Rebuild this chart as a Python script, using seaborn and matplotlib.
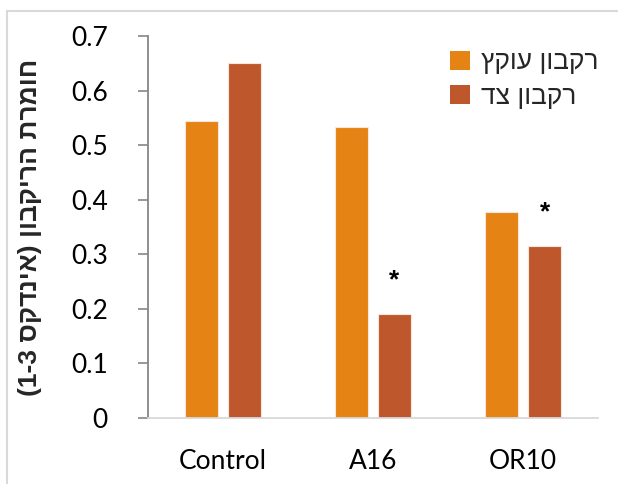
import re
import matplotlib
matplotlib.use("Agg")
import matplotlib.pyplot as plt
import seaborn as sns
import pandas as pd
from matplotlib.patches import Rectangle
from matplotlib.lines import Line2D

# ---- data ----
categories = ["Control", "A16", "OR10"]
series_names = ["רקבון עוקץ", "רקבון צד"]
stem_rot = [0.544, 0.533, 0.377]
side_rot = [0.650, 0.190, 0.315]
significant_side = [False, True, True]
y_ticks = [0, 0.1, 0.2, 0.3, 0.4, 0.5, 0.6, 0.7]
y_label = "חומרת הריקבון (אינדקס 1-3)"
colors = ["#E58414", "#BE582C"]


def visual(s):
    """Convert logical-order Hebrew text to visual order for LTR rendering."""
    r = s[::-1]
    r = re.sub(r"[0-9A-Za-z\-\.]+", lambda m: m.group(0)[::-1], r)
    return r.translate(str.maketrans("()", ")("))


df = pd.DataFrame({
    "category": categories * 2,
    "series": [series_names[0]] * 3 + [series_names[1]] * 3,
    "value": stem_rot + side_rot,
})

sns.set_theme(style="white")
plt.rcParams["font.family"] = ["Lato", "DejaVu Sans"]

fig = plt.figure(figsize=(6.18, 4.84), dpi=100)
ax = fig.add_axes([0.2395, 0.1364, 0.7285, 0.7892])

sns.barplot(data=df, x="category", y="value", hue="series",
            hue_order=series_names, order=categories, palette=colors,
            saturation=1, width=0.573, gap=0.23, edgecolor="#f6e6dc",
            linewidth=0.8, ax=ax, legend=False)

# significance asterisks above side-rot bars
for i, (v, sig) in enumerate(zip(side_rot, significant_side)):
    if sig:
        ax.text(i + 0.143, v + 0.062, "*", ha="center", va="center",
                fontsize=19, fontweight="bold", color="black",
                family="Liberation Sans")

ax.set_ylim(0, 0.7)
ax.set_xlim(-0.5, 2.5)
ax.set_yticks(y_ticks)
ax.set_yticklabels([("%g" % t) for t in y_ticks], fontsize=19)
ax.tick_params(axis="y", direction="out", length=7, width=1.2,
               color="#868686", pad=22, left=True)
for lab in ax.get_yticklabels():
    lab.set_horizontalalignment("right")
ax.tick_params(axis="x", length=0, pad=22, labelsize=19)
for lab in ax.get_xticklabels() + ax.get_yticklabels():
    lab.set_color("black")

for side in ["top", "right"]:
    ax.spines[side].set_visible(False)
ax.spines["left"].set_color("#868686")
ax.spines["left"].set_linewidth(1.3)
ax.spines["bottom"].set_color("#d9d9d9")
ax.spines["bottom"].set_linewidth(1.3)

ax.set_xlabel("")
ax.set_ylabel(visual(y_label), fontsize=19, fontweight="bold",
              family=["Liberation Sans", "DejaVu Sans"])
ax.yaxis.set_label_coords(-0.235, 0.5)

handles = [Rectangle((0, 0), 1, 1, facecolor=c, edgecolor="none") for c in colors]
leg = fig.legend(handles, [visual(s) for s in series_names],
                 loc="upper left", bbox_to_anchor=(0.69, 0.945),
                 frameon=False, handlelength=0.75, handleheight=0.75,
                 handletextpad=0.4, labelspacing=0.4,
                 prop={"family": ["Liberation Sans", "DejaVu Sans"], "size": 19})

# light frame lines at top/left of the figure
fig.add_artist(Line2D([0.012, 0.012], [0.0, 0.977], color="#d9d9d9", lw=1.5,
                      transform=fig.transFigure))
fig.add_artist(Line2D([0.012, 1.0], [0.977, 0.977], color="#d9d9d9", lw=1.5,
                      transform=fig.transFigure))

fig.savefig("out.png", dpi=100, facecolor="white")
